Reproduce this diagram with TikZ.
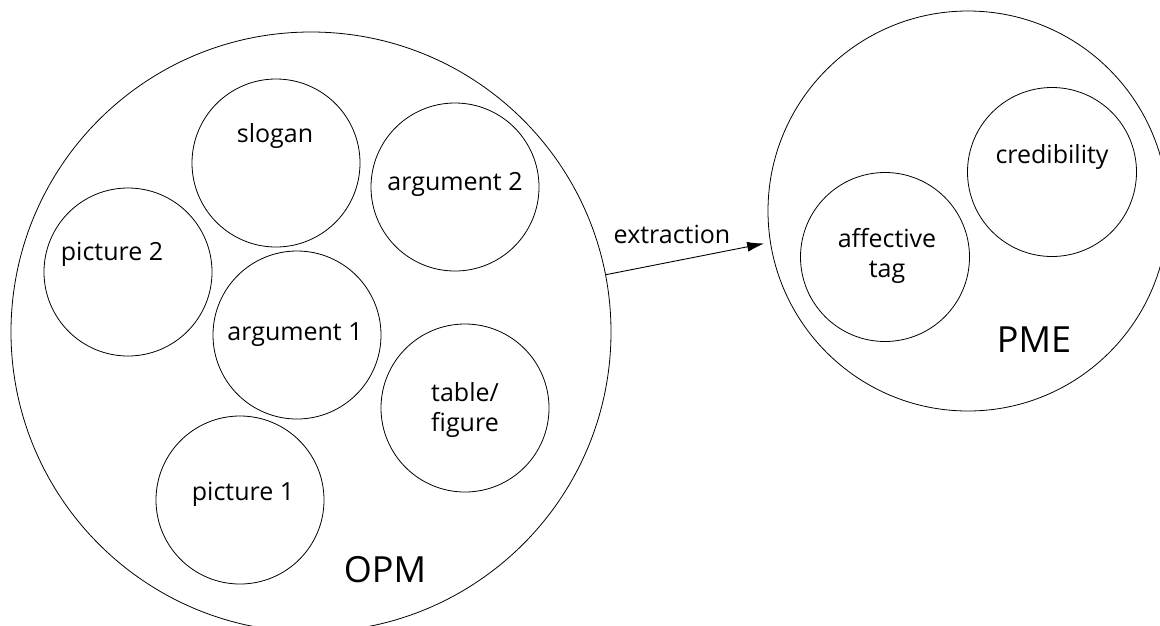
\documentclass[tikz,border=0pt]{standalone}
\usepackage{fontspec}
\setmainfont{Open Sans}
\usetikzlibrary{arrows.meta}
\begin{document}
\begin{tikzpicture}[x=1pt,y=-1pt,
  ring/.style={circle, draw, line width=0.8pt, minimum size=#1, inner sep=0pt},
  lbl/.style={font=\fontsize{25}{30}\selectfont, align=center, inner sep=0pt, anchor=base},
  lbltwo/.style={font=\fontsize{25}{30}\selectfont, align=center, inner sep=0pt},
  big/.style={font=\fontsize{36}{44}\selectfont, inner sep=0pt, anchor=base}]
\useasboundingbox (0,0) rectangle (1160,625);
\clip (0,0) rectangle (1160,625);

% outer sets
\node[ring=600pt] (opm) at (311,332) {};
\node[ring=400pt] (pme) at (968,211) {};
\node[big] (opmlabel) at (385,582) {OPM};
\node[big] (pmelabel) at (1034,352) {PME};

% parts of OPM
\node[ring=168pt] (slogan) at (276,163) {};
\node[lbl] (slogant) at (275,142) {slogan};
\node[ring=168pt] (arg2) at (455,187) {};
\node[lbl] (arg2t) at (455,190) {argument 2};
\node[ring=168pt] (pic2) at (128,272) {};
\node[lbl] (pic2t) at (112,260) {picture 2};
\node[ring=168pt] (arg1) at (297,335) {};
\node[lbl] (arg1t) at (295,340) {argument 1};
\node[ring=168pt] (table) at (465,408) {};
\node[lbl] (tablet) at (465,401) {table/};
\node[lbl] (figuret) at (465,431) {figure};
\node[ring=168pt] (pic1) at (240,500) {};
\node[lbl] (pic1t) at (243,500) {picture 1};

% parts of PME
\node[ring=169pt] (affect) at (885,257) {};
\node[lbl] (affectt) at (887,247) {affective};
\node[lbl] (tagt) at (887,277) {tag};
\node[ring=169pt] (cred) at (1052,172) {};
\node[lbl] (credt) at (1052,163) {credibility};

% extraction arrow
\draw[line width=0.9pt, -{Latex[length=17pt,width=10pt]}, shorten >=6pt] (opm.11) -- (pme.189);
\node[lbl] (extr) at (672,243) {extraction};
\end{tikzpicture}
\end{document}
